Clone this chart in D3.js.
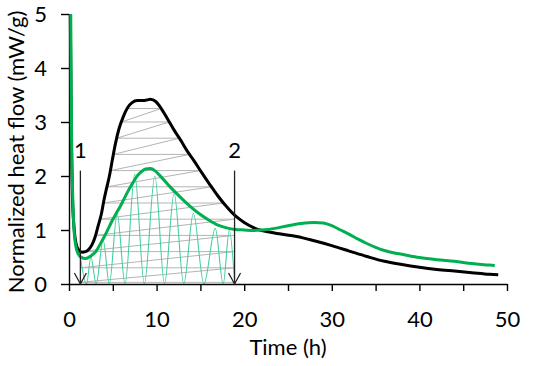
<!DOCTYPE html>
<html><head><meta charset="utf-8">
<script src="https://cdn.jsdelivr.net/npm/d3@7"></script>
<style>
body{margin:0;background:#fff}
svg{display:block}
text{font-family:Lato,"Open Sans",sans-serif;fill:#000}
</style>
</head><body>
<svg id="chart" width="550" height="366"></svg>
<script>
// ---- data ----
const blackT = [0.15,0.25,0.4,0.6,0.8,1.1,1.5,1.9,2.3,2.6,3.0,3.3,3.7,4.0,4.3,4.6,4.95,5.3,5.7,6.2,6.7,7.2,7.8,8.6,9.3,9.9,10.4,11.2,12,12.8,13.5,14.2,15,16,17,18,19,20,21,22,23,24,26,28,30,32,34,36,38,40,42,44,46,48,49];
const blackV = [5.0,3.0,1.6,1.0,0.75,0.63,0.59,0.6,0.65,0.72,0.88,1.06,1.3,1.56,1.78,1.99,2.3,2.6,2.87,3.1,3.27,3.36,3.4,3.4,3.42,3.38,3.28,3.07,2.85,2.65,2.46,2.3,2.1,1.86,1.63,1.43,1.26,1.14,1.05,0.99,0.96,0.93,0.88,0.8,0.71,0.61,0.51,0.42,0.36,0.31,0.27,0.24,0.21,0.18,0.17];
const greenT = [0.2,0.28,0.4,0.62,0.9,1.34,1.9,2.5,3.14,3.6,4.04,4.5,4.95,5.4,5.86,6.3,6.74,7.2,7.65,8.2,8.74,9.3,9.8,10.3,11.3,12.5,13.6,14.8,15.9,17,18,19,20,21,22,23.5,25,26.5,28,29,30,31,32,33,34,35,36,37,38,40,42,44,46,48,48.6];
const greenV = [5.0,3.0,1.8,0.9,0.62,0.5,0.47,0.52,0.62,0.75,0.88,1.03,1.18,1.31,1.44,1.58,1.72,1.85,1.97,2.07,2.13,2.14,2.1,2.02,1.84,1.64,1.47,1.31,1.19,1.09,1.04,1.01,1.0,0.99,1.0,1.03,1.08,1.12,1.14,1.13,1.08,1.0,0.92,0.83,0.75,0.68,0.62,0.58,0.55,0.49,0.45,0.42,0.38,0.35,0.34];
// teal wave filling the area under the green peak
const tealT = [1.3,2.0,2.5,3.1,3.9,4.6,5.5,6.4,7.5,8.6,9.8,10.9,12.0,13.1,14.2,15.4,16.7,17.6,18.3,18.9];
const tealV = [0.5,0,0.5,0,0.82,0,1.3,0,2.03,0,2.0,0,1.68,0,1.31,0,1.03,0,1.0,0.05];
// grey zig-zag levels under the black peak
const grayLevels = [0.03,0.3,0.6,0.9,1.2,1.5,1.8,2.1,2.4,2.7,3.0,3.25];
// arrows
const arrowT = [1.3, 18.9];
const arrowLabels = ["1", "2"];
const arrowTop = 2.1;
// axes
const xTicks = [0,5,10,15,20,25,30,35,40,45,50];
const xLabels = [0,10,20,30,40,50];
const yTicks = [0,1,2,3,4,5];
const xTitle = "Time (h)";
const yTitle = "Normalized heat flow (mW/g)";

// ---- drawing ----
const svg = d3.select("#chart");
const x = d3.scaleLinear().domain([0,50]).range([69,507]);
const y = d3.scaleLinear().domain([0,5]).range([284,14]);

function valueAt(T,V,t){
  for(let i=0;i<T.length-1;i++){
    if(t>=T[i] && t<=T[i+1]){const f=(t-T[i])/(T[i+1]-T[i]);return V[i]+f*(V[i+1]-V[i]);}
  }
  return V[V.length-1];
}
const t1 = arrowT[0], t2 = arrowT[1];
function leftT(h){
  if(valueAt(blackT,blackV,t1)>=h) return t1;
  for(let i=0;i<blackT.length-1;i++){
    if(blackT[i+1]<t1) continue;
    if(blackV[i]<h && blackV[i+1]>=h){const f=(h-blackV[i])/(blackV[i+1]-blackV[i]);return blackT[i]+f*(blackT[i+1]-blackT[i]);}
  }
  return t1;
}
function rightT(h){
  if(valueAt(blackT,blackV,t2)>=h) return t2;
  for(let i=blackT.length-2;i>=0;i--){
    if(blackT[i]>t2) continue;
    if(blackV[i]>=h && blackV[i+1]<h){const f=(blackV[i]-h)/(blackV[i]-blackV[i+1]);return blackT[i]+f*(blackT[i+1]-blackT[i]);}
  }
  return t2;
}
const grayPts = [];
grayLevels.forEach((h,k)=>{grayPts.push([rightT(h),h]);grayPts.push([leftT(h),h]);});

const lineLin = d3.line().x(d=>x(d[0])).y(d=>y(d[1]));
svg.append("path").attr("d",lineLin(grayPts))
  .attr("fill","none").attr("stroke","#b4b4b4").attr("stroke-width",1);

const lineSmooth = d3.line().x(d=>x(d[0])).y(d=>y(d[1])).curve(d3.curveMonotoneX);
svg.append("path").attr("d",lineSmooth(tealT.map((t,i)=>[t,tealV[i]])))
  .attr("fill","none").attr("stroke","#45cfa0").attr("stroke-width",1.1);

// axes
const xAxis = d3.axisBottom(x).tickValues(xTicks).tickSize(7).tickSizeOuter(0)
  .tickPadding(20).tickFormat(d=>xLabels.includes(d)?d:"");
const gx = svg.append("g").attr("transform",`translate(0,${y(0)})`).call(xAxis);
const yAxis = d3.axisLeft(y).tickValues(yTicks).tickSize(8).tickSizeOuter(0).tickPadding(14)
  .tickFormat(d3.format("d"));
const gy = svg.append("g").attr("transform",`translate(${x(0)},0)`).call(yAxis);
[gx,gy].forEach(g=>{
  g.attr("font-family",null).attr("font-size",null);
  g.selectAll("path,line").attr("stroke","#000").attr("stroke-width",1.4);
  g.selectAll("text").style("font-size","22px").attr("fill","#000");
});

// curves
svg.append("path").attr("d",lineSmooth(blackT.map((t,i)=>[t,blackV[i]])))
  .attr("fill","none").attr("stroke","#000").attr("stroke-width",3).attr("stroke-linejoin","round");
svg.append("path").attr("d",lineSmooth(greenT.map((t,i)=>[t,greenV[i]])))
  .attr("fill","none").attr("stroke","#00b050").attr("stroke-width",3).attr("stroke-linejoin","round");

// arrows
arrowT.forEach((t,i)=>{
  const ax = x(t), y0 = y(0);
  svg.append("line").attr("x1",ax).attr("x2",ax).attr("y1",y(arrowTop)).attr("y2",y0)
    .attr("stroke","#222").attr("stroke-width",1.3);
  svg.append("path").attr("d",`M${ax-6},${y0-11}L${ax},${y0}L${ax+6},${y0-11}`)
    .attr("fill","none").attr("stroke","#222").attr("stroke-width",1.3);
  svg.append("text").attr("x",ax).attr("y",y(arrowTop)-13).attr("text-anchor","middle")
    .style("font-size","22px").text(arrowLabels[i]);
});

// titles
svg.append("text").attr("x",x(25)).attr("y",355).attr("text-anchor","middle")
  .style("font-size","22px").text(xTitle);
svg.append("text").attr("transform","translate(24,152) rotate(-90)").attr("text-anchor","middle")
  .style("font-size","22px").text(yTitle);
</script>
</body></html>
